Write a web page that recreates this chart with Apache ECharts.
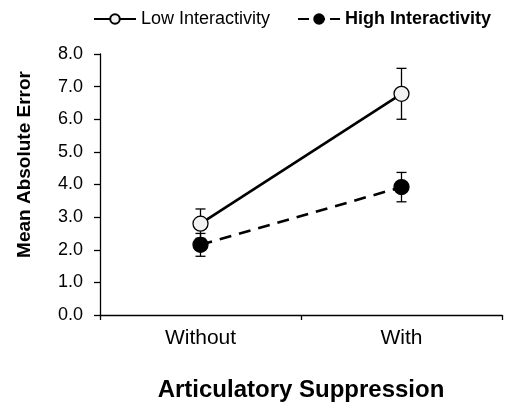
<!DOCTYPE html>
<html>
<head>
<meta charset="utf-8">
<script src="https://cdn.jsdelivr.net/npm/echarts@6/dist/echarts.min.js"></script>
<style>html,body{margin:0;padding:0;background:#fff;}#c{width:505px;height:410px;}</style>
</head>
<body>
<div id="c"></div>
<script>
var categories = ['Without', 'With'];
var lowMeans = [2.8, 6.78];
var lowErr = [0.45, 0.78];
var highMeans = [2.15, 3.92];
var highErr = [0.35, 0.45];
var yTicks = [0, 1, 2, 3, 4, 5, 6, 7, 8];

var FONT = '"Liberation Sans", Arial, sans-serif';

function errData(means, errs) {
  return means.map(function (m, i) { return [i, m - errs[i], m + errs[i]]; });
}

function renderErr(params, api) {
  var x = api.value(0);
  var lo = api.coord([x, api.value(1)]);
  var hi = api.coord([x, api.value(2)]);
  var w = 5;
  var style = { stroke: '#000', lineWidth: 1.3 };
  return {
    type: 'group',
    children: [
      { type: 'line', shape: { x1: hi[0], y1: hi[1], x2: lo[0], y2: lo[1] }, style: style },
      { type: 'line', shape: { x1: hi[0] - w, y1: hi[1], x2: hi[0] + w, y2: hi[1] }, style: style },
      { type: 'line', shape: { x1: lo[0] - w, y1: lo[1], x2: lo[0] + w, y2: lo[1] }, style: style }
    ]
  };
}

var chart = echarts.init(document.getElementById('c'));
chart.setOption({
  animation: false,
  textStyle: { fontFamily: FONT },
  legend: {
    top: 10,
    left: 93,
    width: 412,
    padding: 0,
    itemGap: 27,
    itemWidth: 42,
    itemHeight: 12,
    textStyle: { fontFamily: FONT, fontSize: 18, color: '#000', rich: { b: { fontFamily: FONT, fontSize: 18, fontWeight: 'bold', color: '#000' } } },
    formatter: function (name) { return name === 'High Interactivity' ? '{b|' + name + '}' : name; },
    data: [
      { name: 'Low Interactivity' },
      { name: 'High Interactivity', lineStyle: { type: [11, 5] } }
    ]
  },
  grid: { left: 100, right: 3, top: 54, bottom: 95 },
  xAxis: {
    type: 'category',
    data: categories,
    boundaryGap: true,
    name: 'Articulatory Suppression',
    nameLocation: 'middle',
    nameGap: 63,
    nameTextStyle: { fontFamily: FONT, fontSize: 24, fontWeight: 'bold', color: '#000' },
    axisLine: { lineStyle: { color: '#000', width: 1.3 } },
    axisTick: { show: true, length: 5, lineStyle: { color: '#000', width: 1.3 } },
    axisLabel: { fontFamily: FONT, fontSize: 21, color: '#000', margin: 13 }
  },
  yAxis: {
    type: 'value',
    min: 0, max: 8, interval: 1,
    name: 'Mean Absolute Error',
    nameLocation: 'middle',
    nameGap: 66,
    nameTextStyle: { fontFamily: FONT, fontSize: 19, fontWeight: 'bold', color: '#000', padding: [0, 0, 0, 40] },
    splitLine: { show: false },
    axisLine: { show: true, lineStyle: { color: '#000', width: 1.3 } },
    axisTick: { show: true, length: 6, lineStyle: { color: '#000', width: 1.3 } },
    axisLabel: { fontFamily: FONT, fontSize: 18, color: '#000', margin: 17,
      formatter: function (v) { return yTicks.indexOf(v) >= 0 ? v.toFixed(1) : ''; } }
  },
  series: [
    { type: 'custom', name: 'lowErr', renderItem: renderErr, data: errData(lowMeans, lowErr), z: 1, silent: true },
    { type: 'custom', name: 'highErr', renderItem: renderErr, data: errData(highMeans, highErr), z: 1, silent: true },
    {
      type: 'line', name: 'Low Interactivity', data: lowMeans, z: 3,
      symbol: 'circle', symbolSize: 15,
      lineStyle: { color: '#000', width: 2.6, type: 'solid' },
      itemStyle: { color: '#f2f2f2', borderColor: '#000', borderWidth: 1.3 }
    },
    {
      type: 'line', name: 'High Interactivity', data: highMeans, z: 4,
      symbol: 'circle', symbolSize: 15,
      lineStyle: { color: '#000', width: 2.6, type: [12, 8] },
      itemStyle: { color: '#000', borderColor: '#000', borderWidth: 1.3 }
    }
  ]
});
</script>
</body>
</html>
